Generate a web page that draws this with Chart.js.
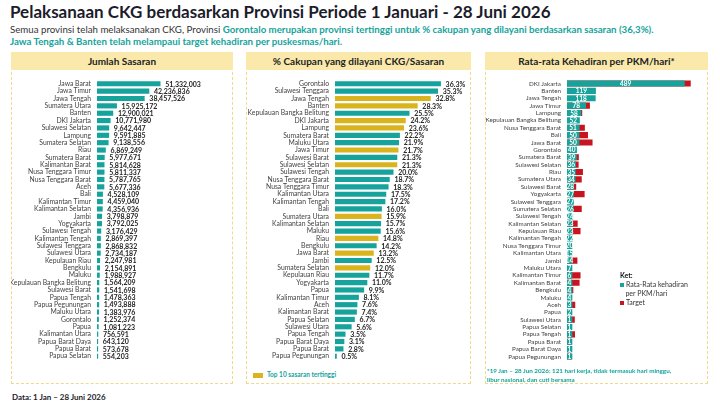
<!DOCTYPE html>
<html>
<head>
<meta charset="utf-8">
<script src="https://cdn.jsdelivr.net/npm/chart.js@4.4.0/dist/chart.umd.min.js"></script>
<style>
  body { margin: 0; width: 720px; height: 405px; background: #fff; font-family: Lato, "Noto Sans", sans-serif; position: relative; overflow: hidden; }
  #title { position: absolute; left: 10px; top: 2px; font-size: 17px; font-weight: bold; color: #1c1c2b; line-height: 20px; white-space: nowrap; }
  #sub { position: absolute; left: 10px; top: 23px; font-size: 9.7px; line-height: 12px; color: #333; white-space: nowrap; }
  #sub .hl { color: #16a39b; font-weight: bold; }
  .panel { position: absolute; top: 52px; height: 332px; border: 1px dashed #f0d98a; box-sizing: border-box; background: #fff; }
  .head { position: absolute; left: -1px; right: -1px; top: -1px; height: 18px; background: #fbe9ac; font-size: 10px; font-weight: bold; color: #222; text-align: center; line-height: 18px; }
  .box { position: absolute; }
  #foot { position: absolute; left: 12px; top: 392px; font-size: 8px; font-weight: bold; color: #1c1c2b; }
  #legend2 { position: absolute; left: 253px; top: 371px; font-size: 6.5px; font-weight: bold; color: #16a39b; }
  #legend2 span { display: inline-block; width: 10px; height: 5px; background: #d9b41e; vertical-align: middle; margin-right: 4px; }
  #note3 { position: absolute; left: 487px; top: 367px; font-size: 6.3px; font-weight: bold; color: #16a39b; line-height: 8.5px; white-space: nowrap; }
  #ket { position: absolute; left: 620px; top: 271px; font-size: 7px; color: #333; line-height: 9px; }
  #ket b { color: #111; }
  #ket i { display: inline-block; width: 4px; height: 4px; margin-right: 2px; vertical-align: middle; }
</style>
</head>
<body>
<div id="title">Pelaksanaan CKG berdasarkan Provinsi Periode 1 Januari - 28 Juni 2026</div>
<div id="sub">Semua provinsi telah melaksanakan CKG, Provinsi <span class="hl">Gorontalo merupakan provinsi tertinggi untuk % cakupan yang dilayani berdasarkan sasaran (36,3%).</span><br><span class="hl">Jawa Tengah &amp; Banten telah melampaui target kehadiran per puskesmas/hari.</span></div>

<div class="panel" style="left:11px;width:222px;"><div class="head">Jumlah Sasaran</div></div>
<div class="panel" style="left:246px;width:225px;"><div class="head">% Cakupan yang dilayani CKG/Sasaran</div></div>
<div class="panel" style="left:485px;width:223px;"><div class="head">Rata-rata Kehadiran per PKM/hari*</div></div>

<div class="box" style="left:11px;top:70px;width:222px;height:300px;"><canvas id="c1" width="222" height="300"></canvas></div>
<div class="box" style="left:246px;top:70px;width:225px;height:300px;"><canvas id="c2" width="225" height="300"></canvas></div>
<div class="box" style="left:485px;top:70px;width:223px;height:300px;"><canvas id="c3" width="223" height="300"></canvas></div>

<div id="legend2"><span></span>Top 10 sasaran tertinggi</div>
<div id="ket"><b>Ket:</b><br><i style="background:#16a39b"></i>Rata-Rata kehadiran<br>&nbsp;&nbsp;&nbsp;per PKM/hari<br><i style="background:#c8141e"></i>Target</div>
<div id="note3">*19 Jan – 28 Jun 2026: 121 hari kerja, tidak termasuk hari minggu,<br>libur nasional, dan cuti bersama</div>
<div id="foot">Data: 1 Jan – 28 Juni 2026</div>

<script>
// Jumlah sasaran per provinsi
const provSasaran = ['Jawa Barat', 'Jawa Timur', 'Jawa Tengah', 'Sumatera Utara', 'Banten', 'DKI Jakarta',
  'Sulawesi Selatan', 'Lampung', 'Sumatera Selatan', 'Riau', 'Sumatera Barat', 'Kalimantan Barat',
  'Nusa Tenggara Timur', 'Nusa Tenggara Barat', 'Aceh', 'Bali', 'Kalimantan Timur', 'Kalimantan Selatan',
  'Jambi', 'Yogyakarta', 'Sulawesi Tengah', 'Kalimantan Tengah', 'Sulawesi Tenggara', 'Sulawesi Utara',
  'Kepulauan Riau', 'Bengkulu', 'Maluku', 'Kepulauan Bangka Belitung', 'Sulawesi Barat', 'Papua Tengah',
  'Papua Pegunungan', 'Maluku Utara', 'Gorontalo', 'Papua', 'Kalimantan Utara', 'Papua Barat Daya',
  'Papua Barat', 'Papua Selatan'];
const jumlahSasaran = [51332003, 42236836, 38457526, 15925172, 12900021, 10771980,
  9642447, 9591885, 9138556, 6869249, 5977671, 5814628,
  5811337, 5787765, 5677336, 4528109, 4459040, 4356936,
  3798879, 3792025, 3176429, 2869397, 2868832, 2734187,
  2247981, 2154891, 1988927, 1564209, 1541698, 1478363,
  1493888, 1383976, 1252374, 1081223, 756591, 643120,
  573678, 554203];

// % cakupan yang dilayani CKG / sasaran
const provCakupan = ['Gorontalo', 'Sulawesi Tenggara', 'Jawa Tengah', 'Banten', 'Kepulauan Bangka Belitung',
  'DKI Jakarta', 'Lampung', 'Sumatera Barat', 'Maluku Utara', 'Jawa Timur', 'Sulawesi Barat',
  'Sulawesi Selatan', 'Sulawesi Tengah', 'Nusa Tenggara Barat', 'Nusa Tenggara Timur', 'Kalimantan Utara',
  'Kalimantan Tengah', 'Bali', 'Sumatera Utara', 'Kalimantan Selatan', 'Maluku', 'Riau', 'Bengkulu',
  'Jawa Barat', 'Jambi', 'Sumatera Selatan', 'Kepulauan Riau', 'Yogyakarta', 'Papua', 'Kalimantan Timur',
  'Aceh', 'Kalimantan Barat', 'Papua Selatan', 'Sulawesi Utara', 'Papua Tengah', 'Papua Barat Daya',
  'Papua Barat', 'Papua Pegunungan'];
const persenCakupan = [36.3, 35.3, 32.8, 28.3, 25.5,
  24.2, 23.6, 22.2, 21.9, 21.7, 21.3,
  21.3, 20.0, 18.7, 18.3, 17.5,
  17.2, 16.0, 15.9, 15.7, 15.6, 14.8, 14.2,
  13.2, 12.5, 12.0, 11.7, 11.0, 9.9, 8.1,
  7.6, 7.4, 6.7, 5.6, 3.5, 3.1,
  2.8, 0.5];

// Rata-rata kehadiran per PKM/hari dan target
const provKehadiran = ['DKI Jakarta', 'Banten', 'Jawa Tengah', 'Jawa Timur', 'Lampung',
  'Kepulauan Bangka Belitung', 'Nusa Tenggara Barat', 'Bali', 'Jawa Barat', 'Gorontalo', 'Sumatera Barat',
  'Sulawesi Selatan', 'Riau', 'Sumatera Utara', 'Sulawesi Barat', 'Yogyakarta', 'Sulawesi Tenggara',
  'Sumatera Selatan', 'Sulawesi Tengah', 'Kalimantan Selatan', 'Kepulauan Riau', 'Kalimantan Tengah',
  'Nusa Tenggara Timur', 'Kalimantan Utara', 'Jambi', 'Maluku Utara', 'Kalimantan Timur', 'Kalimantan Barat',
  'Bengkulu', 'Maluku', 'Aceh', 'Papua', 'Sulawesi Utara', 'Papua Selatan', 'Papua Tengah', 'Papua Barat',
  'Papua Barat Daya', 'Papua Pegunungan'];
const rataKehadiran = [489, 119, 118, 78, 58,
  52, 51, 50, 50, 40, 39,
  36, 35, 34, 28, 27, 27,
  26, 24, 23, 23, 22,
  20, 15, 14, 7, 6, 4,
  4, 4, 3, 2, 1, 1, 1, 1,
  1, 1];
const targetKehadiran = [514, null, null, 94, 62,
  null, 73, 86, 105, null, 48,
  47, 65, 60, 37, 72, null,
  60, null, 43, 55, null,
  null, null, 42, null, 55, 51,
  25, null, 33, null, 31, 14, 32, 17,
  12, 18];

const TEAL = '#16a39b';
const GOLD = '#d9b41e';
const RED = '#c8141e';
const FONT = 'Lato, "Noto Sans", sans-serif';

// 10 provinsi dengan sasaran tertinggi
const top10 = provSasaran.slice(0, 10);
const warnaCakupan = provCakupan.map(p => top10.includes(p) ? GOLD : TEAL);

function baseOptions(yWidth, xMax, labelSize) {
    return {
        responsive: false,
        animation: false,
        indexAxis: 'y',
        layout: { padding: { top: 6.5, bottom: 6, right: 8 } },
        plugins: { legend: { display: false }, tooltip: { enabled: false } },
        scales: {
            x: { display: false, min: 0, max: xMax },
            y: {
                grid: { display: false, drawTicks: false },
                border: { display: false },
                ticks: { autoSkip: false, padding: 6, color: '#444', font: { family: FONT, size: labelSize } },
                afterFit: function(scale) { scale.width = yWidth; }
            }
        }
    };
}

// label angka di ujung batang
function endLabels(format) {
    return {
        id: 'endLabels',
        afterDatasetsDraw: function(chart) {
            const ctx = chart.ctx;
            const meta = chart.getDatasetMeta(0);
            const data = chart.data.datasets[0].data;
            ctx.save();
            ctx.font = 'bold 7px ' + FONT;
            ctx.fillStyle = '#1e1e1e';
            ctx.textBaseline = 'middle';
            meta.data.forEach(function(bar, i) {
                ctx.fillText(format(data[i]), bar.x + 5, bar.y + 0.5);
            });
            ctx.restore();
        }
    };
}

new Chart(document.getElementById('c1'), {
    type: 'bar',
    data: {
        labels: provSasaran,
        datasets: [{ data: jumlahSasaran, backgroundColor: TEAL, barThickness: 4.5, minBarLength: 0.8 }]
    },
    options: baseOptions(86, 104000000, 6.8),
    plugins: [endLabels(v => v.toLocaleString('en-US'))]
});

new Chart(document.getElementById('c2'), {
    type: 'bar',
    data: {
        labels: provCakupan,
        datasets: [{ data: persenCakupan, backgroundColor: warnaCakupan, barThickness: 4.5 }]
    },
    options: baseOptions(89, 44, 6.8),
    plugins: [endLabels(v => v.toFixed(1) + '%')]
});

var opt3 = baseOptions(82, 554, 6.3);
opt3.datasets = { bar: { grouped: false } };
new Chart(document.getElementById('c3'), {
    type: 'bar',
    data: {
        labels: provKehadiran,
        datasets: [
            { data: rataKehadiran, backgroundColor: TEAL, barThickness: 5.5, minBarLength: 5 },
            { data: targetKehadiran, backgroundColor: RED, barThickness: 5.5 }
        ]
    },
    options: opt3,
    plugins: [{
        id: 'innerLabels',
        afterDatasetsDraw: function(chart) {
            const ctx = chart.ctx;
            const meta = chart.getDatasetMeta(0);
            ctx.save();
            ctx.font = 'bold 6.5px ' + FONT;
            ctx.fillStyle = '#ffffff';
            ctx.textAlign = 'center';
            ctx.textBaseline = 'middle';
            meta.data.forEach(function(bar, i) {
                ctx.fillText(String(rataKehadiran[i]), (bar.base + bar.x) / 2, bar.y + 0.5);
            });
            ctx.restore();
        }
    }]
});
</script>
</body>
</html>
